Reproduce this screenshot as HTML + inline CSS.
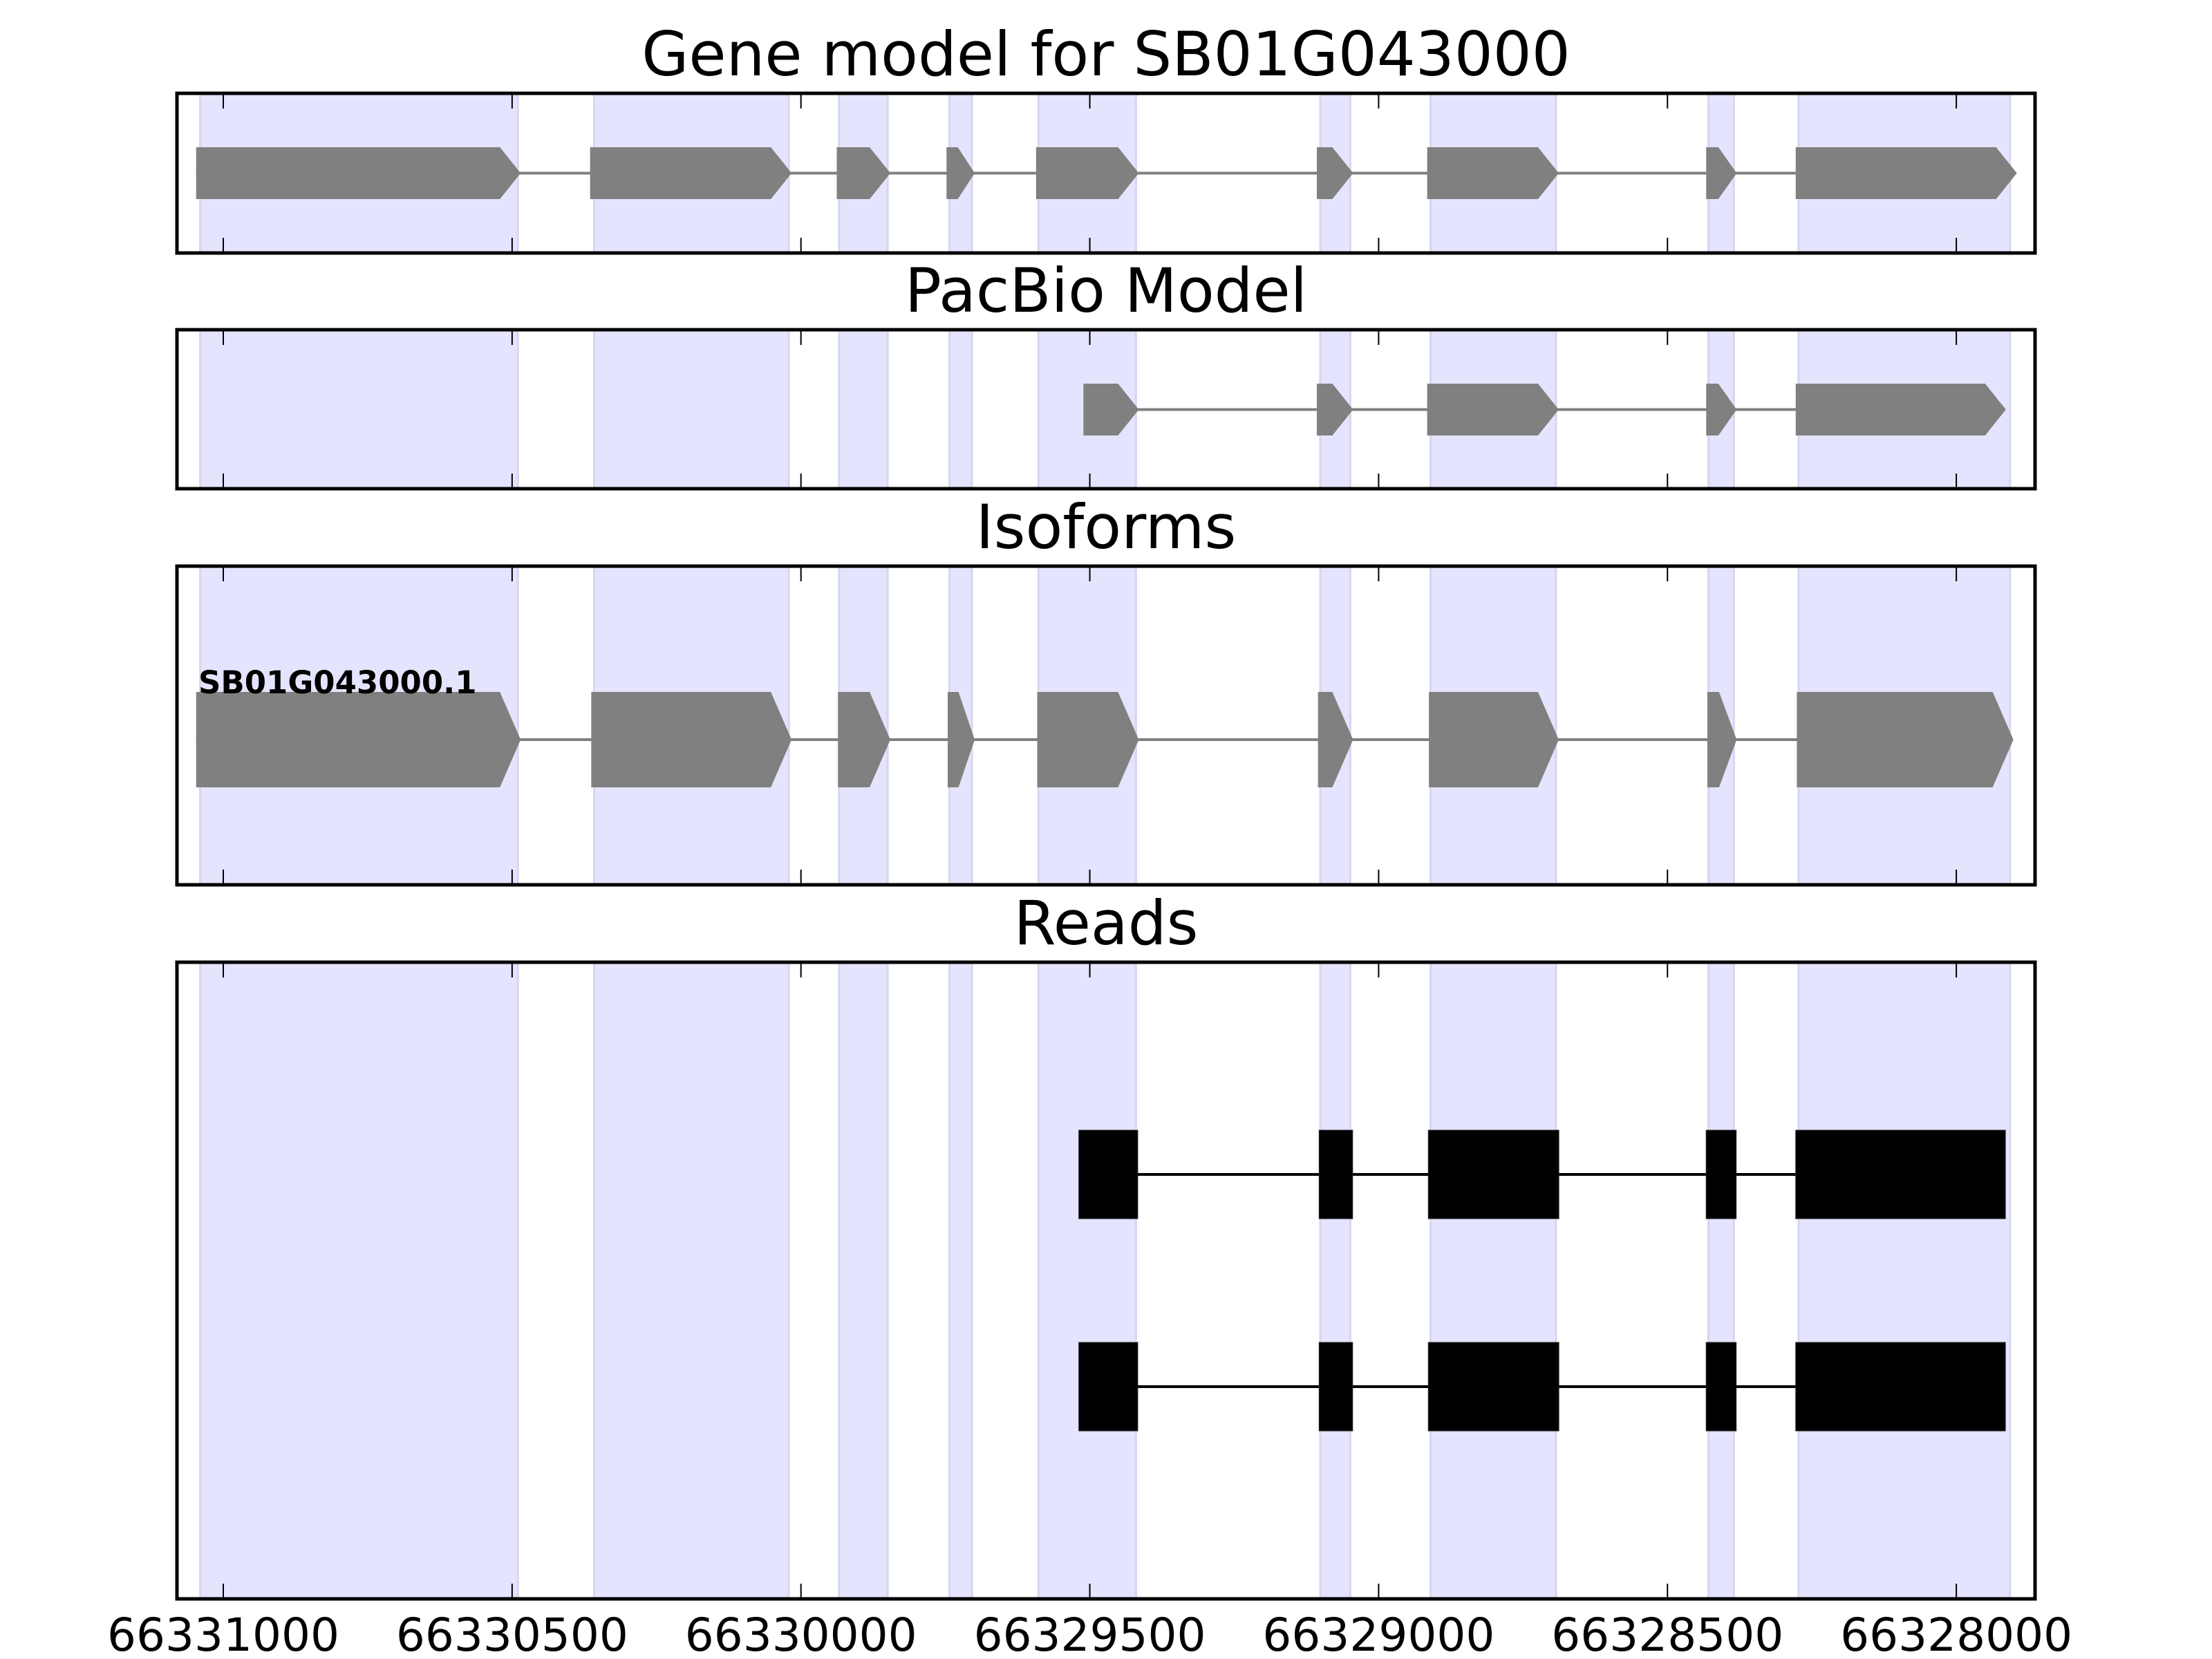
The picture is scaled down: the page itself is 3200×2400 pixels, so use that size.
<!DOCTYPE html>
<html><head><meta charset="utf-8"><style>
html,body{margin:0;padding:0;background:#fff;}
svg{display:block;font-family:"DejaVu Sans","Liberation Sans",sans-serif;}
</style></head>
<body>
<svg id="chart" width="3200" height="2400" viewBox="0 0 3200 2400" xmlns="http://www.w3.org/2000/svg"></svg>
<script>
// ---- data ----
const xTicks = [66331000, 66330500, 66330000, 66329500, 66329000, 66328500, 66328000];
const tickLabels = ["66331000","66330500","66330000","66329500","66329000","66328500","66328000"];
const shadeStarts = [66331040, 66330358, 66329934, 66329743, 66329589, 66329101, 66328910, 66328429, 66328273];
const shadeEnds   = [66330490, 66330021, 66329850, 66329704, 66329420, 66329049, 66328693, 66328385, 66327907];
const geneStarts  = [66331047, 66330365, 66329938, 66329748, 66329593, 66329107, 66328916, 66328433, 66328278];
const geneEnds    = [66330490, 66330021, 66329850, 66329704, 66329420, 66329049, 66328693, 66328385, 66327900];
const pacStarts   = [66329511, 66329107, 66328916, 66328433, 66328278];
const pacEnds     = [66329420, 66329049, 66328693, 66328385, 66327919];
const isoStarts   = [66331047, 66330363, 66329936, 66329746, 66329591, 66329105, 66328913, 66328431, 66328276];
const isoEnds     = [66330490, 66330021, 66329850, 66329704, 66329420, 66329049, 66328693, 66328385, 66327906];
const readStarts  = [66329519, 66329103, 66328914, 66328433, 66328278];
const readEnds    = [66329417, 66329045, 66328688, 66328381, 66327915];
const readRows    = [1, 2];
const panelTitles = ["Gene model for SB01G043000", "PacBio Model", "Isoforms", "Reads"];
const isoformLabel = "SB01G043000.1";

// ---- axis ----
const X0 = 323, PXU = 0.8357, REF = 66331000;
function xs(v){ return X0 + (REF - v) * PXU; }
const L = 256, R = 2944;
const panels = [{t:135,b:366},{t:477,b:707},{t:819,b:1280},{t:1392,b:2313}];

const svg = document.getElementById('chart');
const NS = "http://www.w3.org/2000/svg";
function mk(tag, attrs){ const e = document.createElementNS(NS, tag); for (const k in attrs) e.setAttribute(k, attrs[k]); svg.appendChild(e); return e; }

function arrowPts(x1, x2, cy, h){
  const tip = x2 + 4;
  const hl = Math.min(30, (tip - x1) * 0.6);
  const hs = tip - hl;
  return `${x1},${cy-h/2} ${hs},${cy-h/2} ${tip},${cy} ${hs},${cy+h/2} ${x1},${cy+h/2}`;
}

panels.forEach((p, pi) => {
  const title = mk('text', {x:1600, y:p.t-26, 'font-size':88, 'text-anchor':'middle', fill:'#000'});
  title.textContent = panelTitles[pi];
  
  
  for (let i = 0; i < shadeStarts.length; i++){
    const x1 = xs(shadeStarts[i]), x2 = xs(shadeEnds[i]);
    const r = mk('rect', {x:x1, y:p.t, width:x2-x1, height:p.b-p.t, fill:'#e4e4fe', stroke:'#d6d6ee', 'stroke-width':3});
    
    
  }
});

function drawModel(starts, ends, cy, h, color, lw, arrow, name){
  const ln = mk('line', {x1:xs(starts[0]), x2:xs(ends[ends.length-1]), y1:cy, y2:cy, stroke:color, 'stroke-width':lw});
  
  
  for (let i = 0; i < starts.length; i++){
    const x1 = xs(starts[i]), x2 = xs(ends[i]);
    let e;
    if (arrow) e = mk('polygon', {points: arrowPts(x1, x2, cy, h), fill:color});
    else e = mk('rect', {x:x1, y:cy-h/2, width:x2-x1, height:h, fill:color, stroke:'#222', 'stroke-width':1});
    
    
  }
}
drawModel(geneStarts, geneEnds, 250.5, 75, '#808080', 4, true, 'gene-model');
drawModel(pacStarts, pacEnds, 592.5, 75, '#808080', 4, true, 'pacbio');
drawModel(isoStarts, isoEnds, 1070, 138, '#808080', 4, true, 'isoform');
readRows.forEach((r, ri) => {
  const cy = 1699 + (r - 1) * 307;
  drawModel(readStarts, readEnds, cy, 128, '#000', 4, false, 'read-' + r);
});

const lab = mk('text', {x:287, y:1003, 'font-size':45, 'font-weight':'bold', fill:'#000'});
lab.textContent = isoformLabel;



panels.forEach((p, pi) => {
  xTicks.forEach(v => {
    const x = xs(v);
    const t1 = mk('line', {x1:x, x2:x, y1:p.t, y2:p.t+22, stroke:'#000', 'stroke-width':2});
    
    
    const t2 = mk('line', {x1:x, x2:x, y1:p.b-22, y2:p.b, stroke:'#000', 'stroke-width':2});
    
    
  });
  const fr = mk('rect', {x:L, y:p.t, width:R-L, height:p.b-p.t, fill:'none', stroke:'#000', 'stroke-width':5});
  
  
});

xTicks.forEach((v, i) => {
  const t = mk('text', {x:xs(v), y:2388, 'font-size':66, 'text-anchor':'middle', fill:'#000'});
  t.textContent = tickLabels[i];
  
  
});
</script>
</body></html>
